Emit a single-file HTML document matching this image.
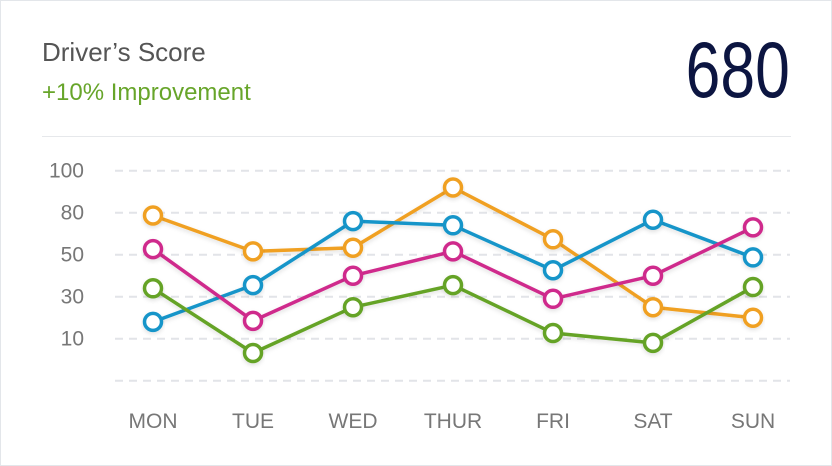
<!DOCTYPE html>
<html><head><meta charset="utf-8"><style>
html,body{margin:0;padding:0;background:#fff;}
#card{position:relative;width:830px;height:464px;border:1px solid #e3e6ea;background:#fff;font-family:"Liberation Sans",sans-serif;}
.t{position:absolute;white-space:nowrap;}
</style></head><body>
<div id="card">
<div class="t" style="left:41px;top:36px;font-size:26px;color:#555;">Driver’s Score</div>
<div class="t" style="left:41px;top:78px;font-size:24px;color:#67a52a;">+10% Improvement</div>
<div class="t" style="right:41px;top:24px;font-size:79px;line-height:90px;color:#0c1541;transform:scaleX(0.79);transform-origin:right;">680</div>
<div style="position:absolute;left:41px;top:135px;width:749px;height:1px;background:#e6e8eb;"></div>
<svg id="chart" width="832" height="466" style="position:absolute;left:-1px;top:-1px;" font-family="Liberation Sans, sans-serif"></svg>
</div>
<script>
const days=["MON","TUE","WED","THUR","FRI","SAT","SUN"];
const tickValues=[0,10,30,50,80,100];
const tickLabels=["","10","30","50","80","100"];
const orangeValues=[78,52.4,55,92,61,25,20];
const blueValues=[18,35.5,74,71,42.6,75,48.7];
const pinkValues=[54,18.5,40,52.4,29,40,69.5];
const greenValues=[34,6.6,25,35.5,12.7,9,34.6];
const seriesNames=["orange","blue","pink","green"];
const seriesColors=["#f0a020","#1795c9","#cf2a8c","#65a325"];
const seriesData=[orangeValues,blueValues,pinkValues,greenValues];

const NS="http://www.w3.org/2000/svg";
const svg=document.getElementById('chart');
const gridTop=170.7,gridStep=42;
function xPos(i){return 153+i*100;}
function yPos(v){
  for(let k=0;k<tickValues.length-1;k++){
    if(v<=tickValues[k+1]||k===tickValues.length-2){
      const y0=gridTop+(tickValues.length-1-k)*gridStep, y1=y0-gridStep;
      return y0+(v-tickValues[k])/(tickValues[k+1]-tickValues[k])*(y1-y0);
    }
  }
}
function mk(tag,attrs){const e=document.createElementNS(NS,tag);for(const k in attrs)e.setAttribute(k,attrs[k]);svg.appendChild(e);return e;}
const defs=document.createElementNS(NS,'defs');
defs.innerHTML='<filter id="sh" x="-20%" y="-20%" width="140%" height="160%"><feDropShadow dx="0" dy="2" stdDeviation="2" flood-color="#000" flood-opacity="0.12"/></filter>';
svg.appendChild(defs);
tickValues.forEach((v,i)=>{
  const y=yPos(v);
  const g=mk('line',{x1:115,x2:790,y1:y,y2:y,stroke:'#e2e4e8','stroke-width':2,'stroke-dasharray':'8 6'});
  
  
  if(tickLabels[i]){
    const t=mk('text',{x:84,y:y+7,'text-anchor':'end','font-size':21,fill:'#777'});
    t.textContent=tickLabels[i];
    
    
  }
});
days.forEach((d,i)=>{
  const t=mk('text',{x:xPos(i),y:428,'text-anchor':'middle','font-size':21,fill:'#777'});
  t.textContent=d;
  
  
});
seriesData.forEach((vals,s)=>{
  const pts=vals.map((v,i)=>xPos(i)+','+yPos(v)).join(' ');
  const pl=mk('polyline',{points:pts,fill:'none',stroke:seriesColors[s],'stroke-width':3.5,'stroke-linejoin':'round',filter:'url(#sh)'});
  
  
});
seriesData.forEach((vals,s)=>{
  vals.forEach((v,i)=>{
    const c=mk('circle',{cx:xPos(i),cy:yPos(v),r:8.5,fill:'#fff',stroke:seriesColors[s],'stroke-width':3.5,filter:'url(#sh)'});
    
    
  });
});
</script>
</body></html>
